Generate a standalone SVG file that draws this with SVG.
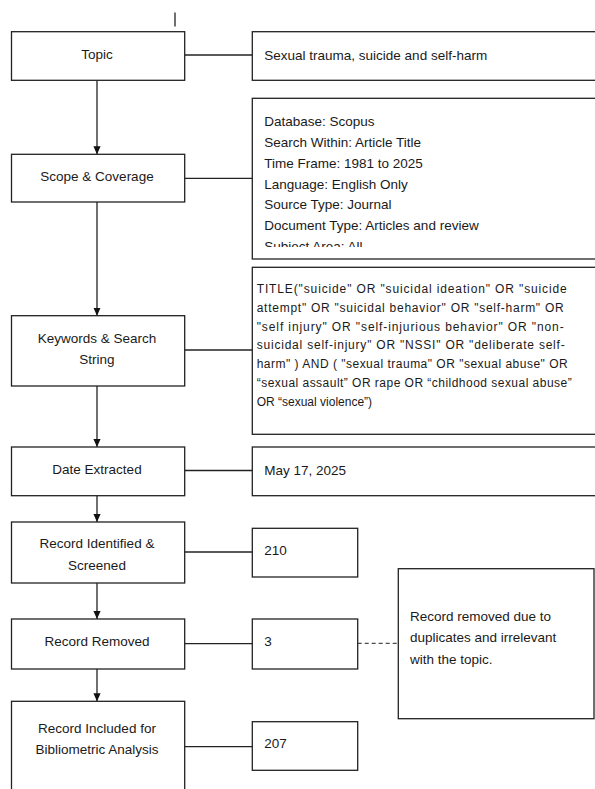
<svg xmlns="http://www.w3.org/2000/svg" width="595" height="789" viewBox="0 0 595 789">
<style>
  .box { fill: #fff; stroke: #222; stroke-width: 1.3; }
  .ln { fill: none; stroke: #222; stroke-width: 1.3; }
  .dash { fill: none; stroke: #222; stroke-width: 1; stroke-dasharray: 4 3; }
  .t { font-family: "Liberation Sans", Arial, sans-serif; font-size: 13.5px; fill: #1a1a1a; }
  .c { text-anchor: middle; }
  .s { font-family: "Liberation Sans", Arial, sans-serif; font-size: 12px; fill: #1a1a1a; }
</style>
<defs>
  <marker id="arr" viewBox="0 0 8 8" refX="8" refY="4" markerWidth="8" markerHeight="8" markerUnits="userSpaceOnUse" orient="auto">
    <path d="M0,0.4 L8,4 L0,7.6 z" fill="#111"/>
  </marker>
  <clipPath id="clipScope">
    <rect x="252" y="98" width="343" height="149"/>
  </clipPath>
</defs>

<line class="ln" x1="175" y1="12.5" x2="175" y2="26.5"/>

<g id="connectors">
  <line class="ln" x1="97" y1="80.3" x2="97" y2="154.3" marker-end="url(#arr)"/>
  <line class="ln" x1="97" y1="202" x2="97" y2="315.7" marker-end="url(#arr)"/>
  <line class="ln" x1="97" y1="386" x2="97" y2="447" marker-end="url(#arr)"/>
  <line class="ln" x1="97" y1="495.7" x2="97" y2="522" marker-end="url(#arr)"/>
  <line class="ln" x1="97" y1="583" x2="97" y2="619" marker-end="url(#arr)"/>
  <line class="ln" x1="97" y1="669" x2="97" y2="701.3" marker-end="url(#arr)"/>
  <line class="ln" x1="184.7" y1="55" x2="252.3" y2="55"/>
  <line class="ln" x1="184.7" y1="178.3" x2="252.3" y2="178.3"/>
  <line class="ln" x1="184.7" y1="350" x2="252.3" y2="350"/>
  <line class="ln" x1="184.7" y1="470.5" x2="252.3" y2="470.5"/>
  <line class="ln" x1="184.7" y1="552" x2="252.3" y2="552"/>
  <line class="ln" x1="184.7" y1="643.7" x2="252.3" y2="643.7"/>
  <line class="ln" x1="184.7" y1="746.7" x2="252.3" y2="746.7"/>
  <line class="dash" x1="357.7" y1="643.3" x2="398.3" y2="643.3"/>
</g>

<g id="topic">
  <rect class="box" x="11.5" y="31.7" width="173.2" height="48.6"/>
  <text class="t c" x="97" y="58.5">Topic</text>
</g>
<g id="topic-detail">
  <rect class="box" x="252.3" y="31.7" width="345" height="48.6"/>
  <text class="t" x="264.3" y="59.7">Sexual trauma, suicide and self-harm</text>
</g>

<g id="scope">
  <rect class="box" x="11.5" y="154.3" width="173.2" height="47.7"/>
  <text class="t c" x="97" y="181.4">Scope &amp; Coverage</text>
</g>
<g id="scope-detail">
  <rect class="box" x="252.3" y="98.3" width="345" height="160.7"/>
  <g clip-path="url(#clipScope)">
    <text class="t" x="264.3" y="125.7">Database:  Scopus</text>
    <text class="t" x="264.3" y="147">Search Within: Article Title</text>
    <text class="t" x="264.3" y="168">Time Frame: 1981 to 2025</text>
    <text class="t" x="264.3" y="188.7">Language:  English Only</text>
    <text class="t" x="264.3" y="209">Source Type: Journal</text>
    <text class="t" x="264.3" y="230.3">Document  Type: Articles and review</text>
    <text class="t" x="264.3" y="251">Subject Area: All</text>
  </g>
</g>

<g id="keywords">
  <rect class="box" x="11.5" y="315.7" width="173.2" height="70.3"/>
  <text class="t c" x="97" y="343">Keywords &amp; Search</text>
  <text class="t c" x="97" y="364">String</text>
</g>
<g id="keywords-detail">
  <rect class="box" x="252.3" y="267.3" width="345" height="167"/>
  <text class="s" x="256.7" y="293" textLength="310" lengthAdjust="spacing">TITLE("suicide" OR "suicidal ideation" OR "suicide</text>
  <text class="s" x="256.7" y="311.8" textLength="307" lengthAdjust="spacing">attempt" OR "suicidal behavior" OR "self-harm" OR</text>
  <text class="s" x="256.7" y="330.6" textLength="307" lengthAdjust="spacing">"self injury" OR "self-injurious behavior"  OR "non-</text>
  <text class="s" x="256.7" y="349.4" textLength="308" lengthAdjust="spacing">suicidal self-injury" OR "NSSI" OR "deliberate self-</text>
  <text class="s" x="256.7" y="368.2" textLength="311" lengthAdjust="spacing">harm" ) AND ( "sexual trauma" OR "sexual abuse" OR</text>
  <text class="s" x="256.7" y="387" textLength="315" lengthAdjust="spacing">“sexual assault” OR rape OR “childhood  sexual  abuse”</text>
  <text class="s" x="256.7" y="405.8">OR “sexual violence”)</text>
</g>

<g id="date">
  <rect class="box" x="11.5" y="447" width="173.2" height="48.7"/>
  <text class="t c" x="97" y="474">Date  Extracted</text>
</g>
<g id="date-detail">
  <rect class="box" x="252.3" y="447" width="345" height="48.7"/>
  <text class="t" x="264.3" y="474.7">May 17, 2025</text>
</g>

<g id="identified">
  <rect class="box" x="11.5" y="522" width="173.2" height="61"/>
  <text class="t c" x="97" y="548">Record Identified &amp;</text>
  <text class="t c" x="97" y="569.7">Screened</text>
</g>
<g id="identified-count">
  <rect class="box" x="252.3" y="528.3" width="105.4" height="48.7"/>
  <text class="t" x="264.3" y="555.4">210</text>
</g>

<g id="removed">
  <rect class="box" x="11.5" y="619" width="173.2" height="50"/>
  <text class="t c" x="97" y="646.4">Record  Removed</text>
</g>
<g id="removed-count">
  <rect class="box" x="252.3" y="619" width="105.4" height="50"/>
  <text class="t" x="264.3" y="646">3</text>
</g>
<g id="removed-note">
  <rect class="box" x="398.3" y="568.7" width="195.7" height="150"/>
  <text class="t" x="410" y="621.4">Record removed  due to</text>
  <text class="t" x="410" y="642.4">duplicates  and irrelevant</text>
  <text class="t" x="410" y="663.7">with the topic.</text>
</g>

<g id="included">
  <rect class="box" x="11.5" y="701.3" width="173.2" height="100"/>
  <text class="t c" x="97" y="732.7">Record Included for</text>
  <text class="t c" x="97" y="754">Bibliometric  Analysis</text>
</g>
<g id="included-count">
  <rect class="box" x="252.3" y="721.7" width="105.4" height="48.6"/>
  <text class="t" x="264.3" y="748">207</text>
</g>
</svg>
